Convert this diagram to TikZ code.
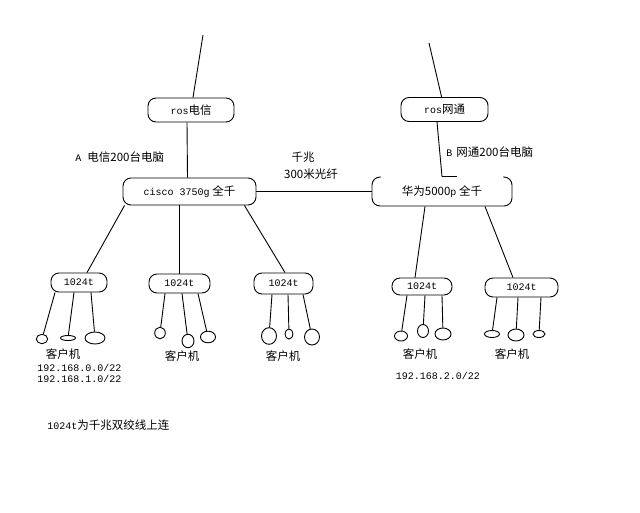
\documentclass[tikz,border=0pt]{standalone}
\usepackage{fontspec}
\setmainfont{Noto Sans CJK SC}
\setmonofont{Liberation Mono}
\usepackage{tikz}
\usetikzlibrary{shapes.geometric,positioning}
\newcommand\tm[1]{{\ttfamily\fontsize{10}{12}\selectfont #1}}
\tikzset{
  rosbox/.style={draw,rounded corners=8pt,inner sep=0pt,minimum height=24pt},
  swbox/.style={draw,rounded corners=8pt,inner sep=0pt,minimum height=19pt},
  client/.style={draw,ellipse,inner sep=0pt},
  lbl/.style={inner sep=0pt}
}
\begin{document}
\begin{tikzpicture}[x=1pt,y=-1pt,line width=0.9pt,font=\fontsize{11.5}{13}\selectfont]
  \fill[white] (0,0) rectangle (640,512);
  \useasboundingbox (0,0) rectangle (640,512);
  % uplinks
  \coordinate (upA) at (203,35);
  \coordinate (upB) at (429,43);
  \node[rosbox,minimum width=86pt] (rosA) at (191,110) {\tm{ros}电信};
  \node[rosbox,minimum width=87pt] (rosB) at (444.5,109.5) {\tm{ros}网通};
  \node[rosbox,minimum width=133pt,minimum height=27pt] (cisco) at (189.5,191.5) {\tm{cisco 3750g} 全千};
  \node[rosbox,minimum width=140pt,minimum height=29pt] (hw) at (442,191.5) {华为5000\tm{p} 全千};
  \draw[white,line width=2pt] ([xshift=9pt]hw.north west) -- ([xshift=-9pt]hw.north east);
  \draw (hw.north) -- ([xshift=15pt]hw.north);
  % access switches
  \node[swbox,minimum width=56pt] (sa) at (79,282.5) {\tm{1024t}};
  \node[swbox,minimum width=61pt] (sb) at (179.5,283.5) {\tm{1024t}};
  \node[swbox,minimum width=59pt,minimum height=21pt] (sc) at (283.5,283.5) {\tm{1024t}};
  \node[swbox,minimum width=60pt,minimum height=17pt] (sd) at (422,286.5) {\tm{1024t}};
  \node[swbox,minimum width=73pt] (se) at (521.5,287.5) {\tm{1024t}};
  % clients
  \node[client,minimum width=11.4pt,minimum height=9.4pt] (c1) at (42,339) {};
  \node[client,minimum width=15pt,minimum height=5pt] (c2) at (68,338) {};
  \node[client,minimum width=20pt,minimum height=12pt] (c3) at (95,338) {};
  \node[client,minimum width=10.6pt,minimum height=11.6pt] (c4) at (160,333) {};
  \node[client,minimum width=12pt,minimum height=13.4pt] (c5) at (188,341) {};
  \node[client,minimum width=15pt,minimum height=11.6pt] (c6) at (208,337) {};
  \node[client,minimum width=15pt,minimum height=16.6pt] (c7) at (269,336) {};
  \node[client,minimum width=8pt,minimum height=10pt] (c8) at (289,334) {};
  \node[client,minimum width=15pt,minimum height=16pt] (c9) at (312,337) {};
  \node[client,minimum width=13pt,minimum height=10pt] (c10) at (401,336) {};
  \node[client,minimum width=11pt,minimum height=13pt] (c11) at (423,331) {};
  \node[client,minimum width=16pt,minimum height=12pt] (c12) at (443,334) {};
  \node[client,minimum width=15pt,minimum height=7pt] (c13) at (492,334) {};
  \node[client,minimum width=16pt,minimum height=12pt] (c14) at (516,335) {};
  \node[client,minimum width=12pt,minimum height=7pt] (c15) at (539,334) {};
  % links
  \draw (upA) -- (rosA);
  \draw (upB) -- (rosB);
  \draw ([xshift=-4pt]rosA.south) -- ([xshift=-2pt]cisco.north);
  \draw ([xshift=-7.5pt]rosB.south) -- (hw.north);
  \draw (cisco) -- (hw);
  \draw ([xshift=2pt]cisco.south west) -- ([xshift=8pt]sa.north);
  \draw (cisco.south -| sb.north) -- (sb.north);
  \draw ([xshift=-12pt]cisco.south east) -- ([xshift=1.5pt]sc.north);
  \draw ([xshift=-17pt]hw.south) -- ([xshift=-7pt]sd.north);
  \draw ([xshift=43pt]hw.south) -- ([xshift=-8.5pt]se.north);
  \draw ([xshift=-24pt]sa.south) -- (c1);
  \draw ([xshift=-5pt]sa.south) -- (c2);
  \draw ([xshift=12pt]sa.south) -- (c3);
  \draw ([xshift=-14.5pt]sb.south) -- (c4);
  \draw ([xshift=2.5pt]sb.south) -- (c5);
  \draw ([xshift=18.5pt]sb.south) -- (c6);
  \draw ([xshift=-11.5pt]sc.south) -- (c7);
  \draw ([xshift=4.5pt]sc.south) -- (c8);
  \draw ([xshift=19.5pt]sc.south) -- (c9);
  \draw ([xshift=-15pt]sd.south) -- (c10);
  \draw ([xshift=3pt]sd.south) -- (c11);
  \draw ([xshift=20pt]sd.south) -- (c12);
  \draw ([xshift=-24.5pt]se.south) -- (c13);
  \draw ([xshift=-3.5pt]se.south) -- (c14);
  \draw ([xshift=19.5pt]se.south) -- (c15);
  % labels
  \node[lbl,anchor=west] (labA) at (75,157) {\tm{A}\hspace{6pt}电信200台电脑};
  \node[lbl,anchor=west] (labB) at (446,152) {\tm{B}\hspace{4pt}网通200台电脑};
  \node[lbl] (fiber1) at (303,157) {千兆};
  \node[lbl] (fiber2) at (311,174) {300米光纤};
  \node[lbl] (pc1) at (63,354) {客户机};
  \node[lbl] (pc2) at (182,356) {客户机};
  \node[lbl] (pc3) at (283,356) {客户机};
  \node[lbl] (pc4) at (420,354) {客户机};
  \node[lbl] (pc5) at (512,354) {客户机};
  \node[lbl,anchor=west] (ip1) at (37,368) {\tm{192.168.0.0/22}};
  \node[lbl,anchor=west] (ip2) at (37,379) {\tm{192.168.1.0/22}};
  \node[lbl] (ip3) at (438,376) {\tm{192.168.2.0/22}};
  \node[lbl,anchor=west] (note) at (47,425) {\tm{1024t}为千兆双绞线上连};
\end{tikzpicture}
\end{document}
